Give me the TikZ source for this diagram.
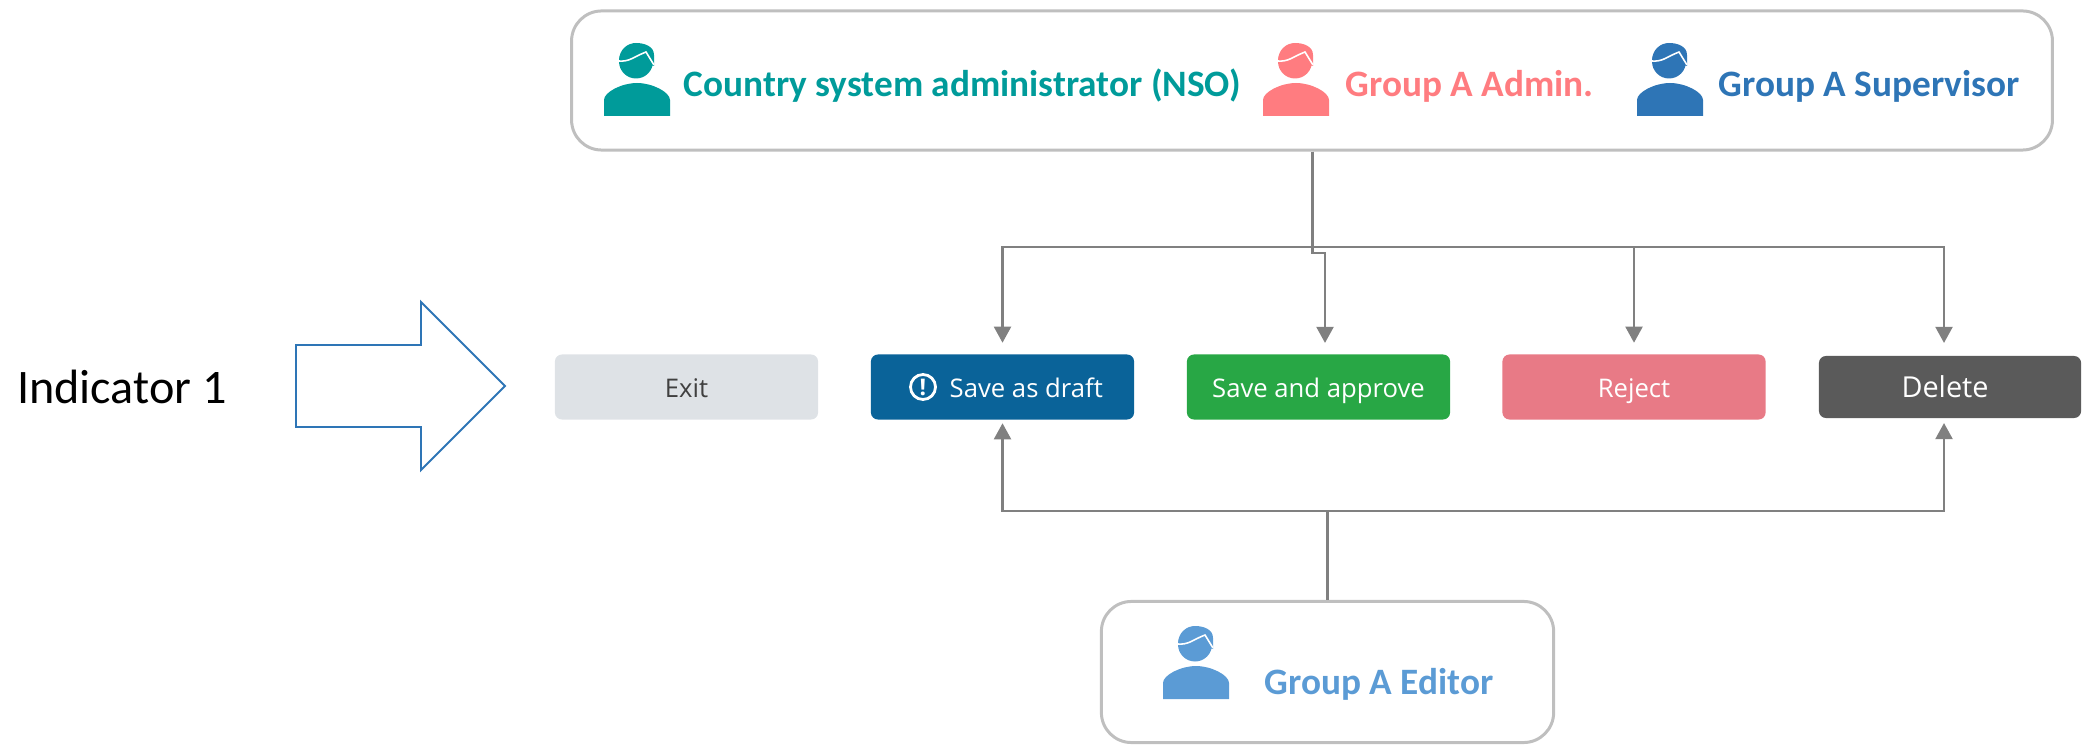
\documentclass[tikz,border=0pt]{standalone}
\usepackage{fontspec}
\setmainfont{Carlito}
\newfontfamily\buttonfont{Open Sans}
\usetikzlibrary{arrows.meta}
\definecolor{nsocol}{HTML}{009B9A}
\definecolor{admincol}{HTML}{FF7C80}
\definecolor{supercol}{HTML}{2E75B6}
\definecolor{editorcol}{HTML}{5B9BD5}
\definecolor{exitcol}{HTML}{DEE2E6}
\definecolor{draftcol}{HTML}{0A6399}
\definecolor{approvecol}{HTML}{28A745}
\definecolor{rejectcol}{HTML}{E87A86}
\definecolor{deletecol}{HTML}{5A5A5A}
\tikzset{
    groupbox/.style={draw=black!25, line width=0.85pt, rounded corners=0.3cm, inner sep=0pt},
    grouplabel/.style={font=\fontsize{10.6}{13}\selectfont\bfseries, anchor=base west, inner sep=0pt},
    actionbtn/.style={rounded corners=0.07cm, minimum width=2.63cm, minimum height=0.65cm, inner sep=0pt,
        text=white, text height=0.75em, text depth=0.15em, font=\buttonfont\fontsize{7.3}{9}\selectfont},
    flow/.style={draw=black!50, line width=0.8pt, -{Triangle[length=4.6pt,width=4.8pt]}, shorten >=0.11cm},
    flowup/.style={flow, shorten >=0.03cm},
    person/.pic={
        \fill (32,18.5) circle (17);
        \fill (15,18) .. controls (15,6) and (24,0) .. (32,0) .. controls (40,0) and (50,3) .. (50,12) -- (50,23) -- (32,18) -- cycle;
        \draw[white, line width=0.45pt] (14,18) .. controls (26,19) and (29,14) .. (42,9) -- (50,22);
        \fill (0,73) -- (0,57) .. controls (0,49) and (18,40) .. (33,40) .. controls (48,40) and (66,49) .. (66,57) -- (66,73) -- cycle;
    }
}
\begin{document}
\begin{tikzpicture}[x=0.01cm, y=-0.01cm]
    \useasboundingbox (0,0) rectangle (2088,749);

    \node[groupbox, minimum width=14.8cm, minimum height=1.39cm] (admins) at (1312,80.5) {};
    \node[groupbox, minimum width=4.52cm, minimum height=1.41cm] (editors) at (1327.5,672) {};

    \pic[nsocol] at (604,43) {person};
    \pic[admincol] at (1263,43) {person};
    \pic[supercol] at (1637,43) {person};
    \pic[editorcol] at (1163,626) {person};
    \node[grouplabel, nsocol] (nso) at (683,97) {Country system administrator (NSO)};
    \node[grouplabel, admincol] (admin) at (1345,97) {Group A Admin.};
    \node[grouplabel, supercol] (super) at (1718,97) {Group A Supervisor};
    \node[grouplabel, editorcol] (editor) at (1264,694) {Group A Editor};

    \node[font=\fontsize{13.7}{16}\selectfont, inner sep=0pt] (indicator) at (122,387) {Indicator 1};
    \draw[draw=supercol, line width=0.55pt] (296,345) -- (421,345) -- (421,302) -- (505,386)
        -- (421,470) -- (421,427) -- (296,427) -- cycle;

    \node[actionbtn, fill=exitcol, text=black!75] (exit) at (686.5,387) {Exit};
    \node[actionbtn, fill=draftcol] (draft) at (1002.5,387) {};
    \node[actionbtn, fill=approvecol] (approve) at (1318.5,387) {Save and approve};
    \node[actionbtn, fill=rejectcol] (reject) at (1634,387) {Reject};
    \node[actionbtn, fill=deletecol, minimum width=2.62cm, minimum height=0.62cm,
        font=\buttonfont\fontsize{8.2}{10}\selectfont] (delete) at (1950,387) {Delete\hspace*{0.1cm}};
    \node[circle, draw=white, line width=0.8pt, minimum size=0.25cm, inner sep=0pt, text=white,
        font=\buttonfont\bfseries\fontsize{6.5}{7}\selectfont] (draftmark) at (923,387) {!};
    \node[anchor=west, text=white, inner sep=0pt, text height=0.75em, text depth=0.15em,
        font=\buttonfont\fontsize{7.3}{9}\selectfont] (draftlabel) at (949,387) {Save as draft};

    \coordinate (adminbus) at (1312.5,247);
    \coordinate (approvetop) at (1325,354);
    \coordinate (deletetop) at (1944,354);
    \coordinate (deletebot) at (1944,420);
    \coordinate (editorbus) at (1327.5,511);

    \draw[flow] (admins.south -| adminbus) -- (adminbus) -| (draft.north);
    \draw[flow] (admins.south -| adminbus) -- (1312.5,253) -| (approvetop);
    \draw[flow] (adminbus) -| (reject.north);
    \draw[flow] (adminbus) -| (deletetop);
    \draw[flowup] (editors.north) -- (editorbus) -| (draft.south);
    \draw[flowup] (editorbus) -| (deletebot);
\end{tikzpicture}
\end{document}
